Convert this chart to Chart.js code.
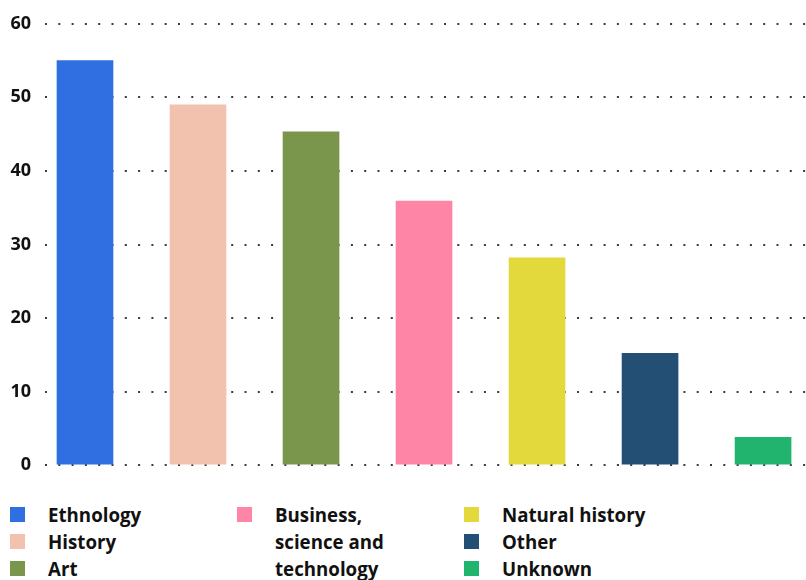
<!DOCTYPE html>
<html>
<head>
<meta charset="utf-8">
<script src="https://cdn.jsdelivr.net/npm/chart.js@4/dist/chart.umd.min.js"></script>
<style>
  html, body { margin: 0; padding: 0; background: #fff; }
  body { width: 806px; height: 580px; overflow: hidden; position: relative; }
  #chart { position: absolute; left: 0; top: -1px; }
  .legend {
    position: absolute; left: 10px; top: 501px;
    height: 81px; width: 700px;
    display: flex; flex-direction: column; flex-wrap: wrap; align-content: flex-start;
    font-family: "Open Sans", sans-serif; font-weight: 700; font-size: 18.7px;
    color: #111;
  }
  .legend .item { display: flex; align-items: flex-start; width: 227px; }
  .legend .box { width: 15px; height: 15px; flex: none; margin-top: 6px; margin-right: 23px; }
  .legend .text { line-height: 27px; max-width: 150px; }
</style>
</head>
<body>
<canvas id="chart" width="806" height="491"></canvas>
<div class="legend" id="legend"></div>
<script>
const categories = ['Ethnology', 'History', 'Art', 'Business, science and technology', 'Natural history', 'Other', 'Unknown'];
const values = [55, 49, 45.3, 35.9, 28.2, 15.2, 3.8];
const colors = ['#2f6fe2', '#f3c2ae', '#7a964c', '#ff85a7', '#e3d93c', '#244f75', '#20b46f'];
const yTicks = [0, 10, 20, 30, 40, 50, 60];

// legend, three columns filled top to bottom
const legend = document.getElementById('legend');
categories.forEach((name, i) => {
  const item = document.createElement('div');
  item.className = 'item';
  item.innerHTML = `<span class="box" style="background:${colors[i]}"></span><span class="text">${name}</span>`;
  legend.appendChild(item);
});

const ctx = document.getElementById('chart').getContext('2d');
new Chart(ctx, {
  type: 'bar',
  data: {
    datasets: [{
      label: 'Objects',
      data: values.map((v, i) => ({ x: i, y: v })),
      backgroundColor: colors,
      borderWidth: 0,
      barThickness: 56,
    }],
  },
  options: {
    responsive: false,
    animation: false,
    layout: { padding: 0 },
    plugins: {
      legend: { display: false },
      tooltip: { enabled: false },
    },
    scales: {
      x: {
        type: 'linear',
        display: false,
        offset: false,
        bounds: 'data',
        min: -0.354,
        max: 6.38,
        grid: { display: false },
      },
      y: {
        min: 0,
        max: 60,
        afterFit: (scale) => { scale.width = 45; },
        afterBuildTicks: (scale) => { scale.ticks = yTicks.map((v) => ({ value: v })); },
        ticks: {
          padding: 14,
          color: '#111',
          font: { family: 'Open Sans', weight: 'bold', size: 18 },
        },
        grid: { color: '#3a3a3a', lineWidth: 2, drawTicks: false },
        border: { display: false, dash: [2, 11.3] },
      },
    },
  },
});
</script>
</body>
</html>
